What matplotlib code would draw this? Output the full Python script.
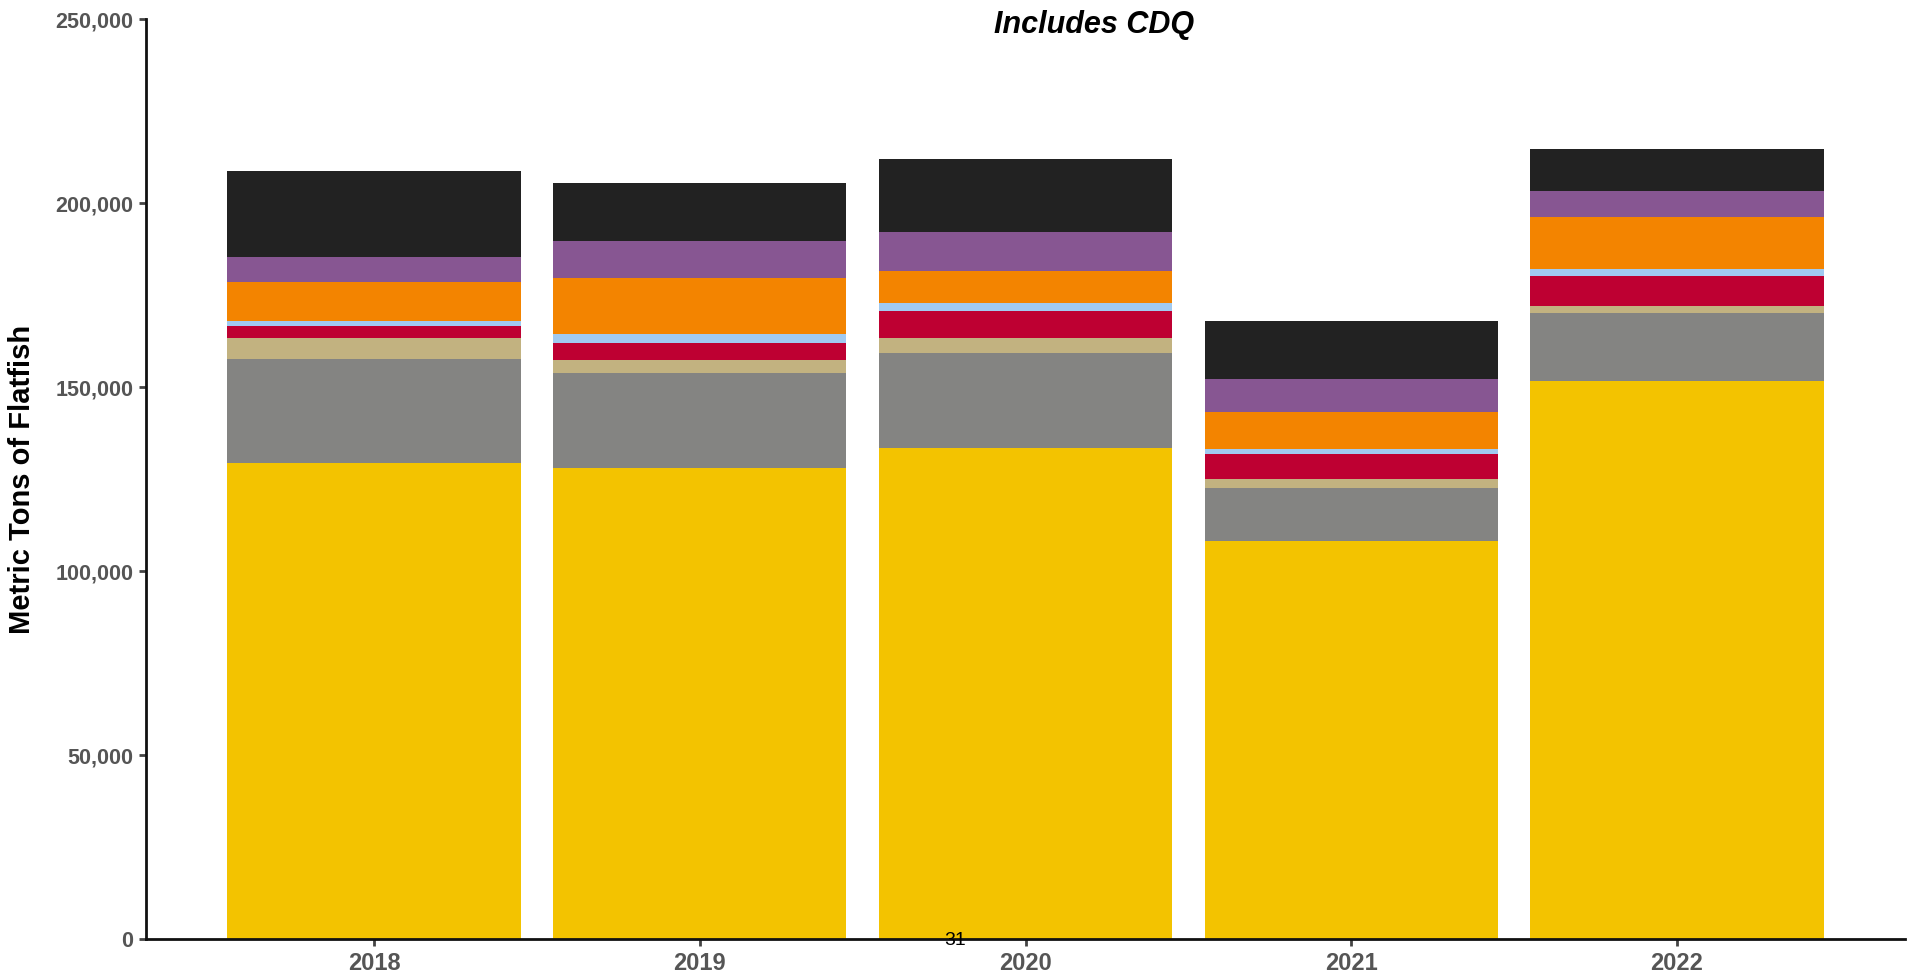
import matplotlib
matplotlib.use("Agg")
import matplotlib.pyplot as plt
from matplotlib.ticker import FuncFormatter

plt.rcParams['font.family'] = ['Liberation Sans', 'DejaVu Sans']

# Harvest by year, metric tons, stacked bottom to top
years = ['2018', '2019', '2020', '2021', '2022']
series_names = ['Yellowfin', 'Rock sole', 'Flathead', 'Arrowtooth', 'Greenland', 'Alaska plaice', 'Other flat', 'Halibut']
yellow = [129300, 127900, 133350, 108100, 151550]
gray = [28250, 25800, 25800, 14400, 18450]
tan = [5700, 3550, 4050, 2450, 2150]
red = [3250, 4600, 7350, 6800, 8150]
lightblue = [1350, 2450, 2200, 1350, 1650]
orange = [10600, 15200, 8700, 10050, 14150]
purple = [6800, 10050, 10600, 8950, 7050]
black = [23350, 16000, 19850, 15750, 11400]

colors = ['#F3C300', '#848482', '#C2B280', '#BE0032', '#A1CAF1', '#F38400', '#875692', '#222222']
series = [yellow, gray, tan, red, lightblue, orange, purple, black]

fig = plt.figure(figsize=(19.11, 9.80), dpi=100)
ax = fig.add_axes([0.0764, 0.0418, 0.9205, 0.9388])

x = range(len(years))
bottom = [0] * len(years)
for vals, col, name in zip(series, colors, series_names):
    ax.bar(x, vals, width=0.9, bottom=bottom, color=col, label=name, linewidth=0)
    bottom = [b + v for b, v in zip(bottom, vals)]

ax.set_xlim(-0.7, 4.7)
ax.set_ylim(0, 250000)
ax.set_xticks(list(x))
ax.set_xticklabels(years)
ax.set_yticks([0, 50000, 100000, 150000, 200000, 250000])
ax.yaxis.set_major_formatter(FuncFormatter(lambda v, p: f'{int(v):,}'))

for side in ['top', 'right']:
    ax.spines[side].set_visible(False)
for side in ['left', 'bottom']:
    ax.spines[side].set_linewidth(2)
    ax.spines[side].set_color('#111111')

ax.tick_params(axis='both', length=5, width=2, color='#444444', labelcolor='#555555', pad=4)
ax.tick_params(axis='x', labelsize=17)
ax.tick_params(axis='y', labelsize=15.5)
for lbl in ax.get_xticklabels() + ax.get_yticklabels():
    lbl.set_fontweight('bold')

ax.set_ylabel('Metric Tons of Flatfish', fontsize=21, fontweight='bold', color='black', labelpad=14)

fig.text(1094 / 1911, 1 - 25 / 980, 'Includes CDQ', fontsize=22, fontweight='bold',
         fontstyle='italic', ha='center', va='center')
fig.text(0.5, 1 - 940 / 980, '31', fontsize=14, ha='center', va='center')

fig.savefig('out.png', dpi=100)
